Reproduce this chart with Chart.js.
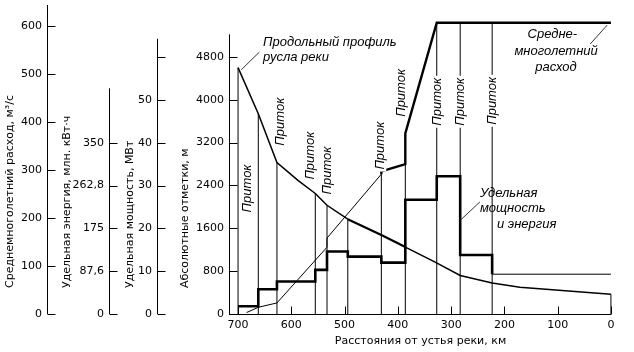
<!DOCTYPE html>
<html>
<head>
<meta charset="utf-8">
<script src="https://cdn.jsdelivr.net/npm/chart.js@4/dist/chart.umd.min.js"></script>
<style>
  html, body { margin: 0; padding: 0; background: #fff; }
</style>
</head>
<body>
<canvas id="riverChart" width="634" height="352"></canvas>
<script>
// tick values of the axes
const xTicks = [0, 100, 200, 300, 400, 500, 600, 700];
const flowTicks = [0, 100, 200, 300, 400, 500, 600];
const energyTicks = [0, 87.6, 175.2, 262.8, 350.4];
const energyTickLabels = ['0', '87,6', '175', '262,8', '350'];
const powerTicks = [0, 10, 20, 30, 40, 50, 60];
const powerTickLabels = ['0', '10', '20', '30', '40', '50', ''];
const elevTicks = [0, 800, 1600, 2400, 3200, 4000, 4800];

// longitudinal profile of the river bed (km from mouth, m)
const profileKm   = [700, 662, 627, 587, 555, 533, 494, 430, 386, 330, 283, 223, 171, 0];
const profileElev = [4600, 3740, 2830, 2490, 2250, 2030, 1770, 1470, 1250, 970, 720, 580, 500, 370];

// mean annual discharge, m3/s
const flowKm = [684, 662, 627, 533, 533, 431, 431, 386, 386, 327, 0];
const flowQ  = [3, 14, 23, 139, 158, 291, 297, 312, 376, 606, 606];

// specific power of each reach, MW (reach starts at powerKm[i])
const powerKm = [700, 662, 627, 555, 533, 494, 431, 386, 327, 283, 223, 0];
const powerMW = [1.8, 5.8, 7.6, 10.3, 14.6, 13.4, 12.0, 26.7, 32.2, 13.8, 9.3, 9.3];

// tributary lines: up to the profile / up to the discharge line
const tribProfileKm = [700, 662, 627, 555, 533, 494, 0];
const tribFlowKm  = [431, 386, 327, 283, 223];
const tribFlowTop = [291, 376, 606, 606, 606];

// "Приток" labels (km, elevation of label centre)
const inflowLabelKm   = [683, 621, 565, 533, 433, 394, 326, 283, 223];
const inflowLabelElev = [2344, 3591, 2958, 2679, 3144, 4130, 3963, 3963, 3981];

// other notes
const noteText  = ['Продольный профиль', 'русла реки', 'Средне-', 'многолетний', 'расход', 'Удельная', 'мощность', 'и энергия'];
const noteKm    = [653, 653, 110, 103, 103, 246, 246, 214];
const noteElev  = [5080, 4800, 5228, 4912, 4614, 2260, 1972, 1674];
const noteAlign = ['left', 'left', 'center', 'center', 'center', 'left', 'left', 'left'];
const leaderKm   = [[694, 660], [39, 7], [281, 246]];
const leaderElev = [[4560, 4890], [5040, 5395], [1767, 2093]];

const FONT = 'DejaVu Sans';
const tickFont = { family: FONT, size: 11 };

function pts(xs, ys) {
  return xs.map((x, i) => ({ x: x, y: ys[i] }));
}
function verticals(kms, tops) {
  const out = [];
  kms.forEach((k, i) => { out.push({ x: k, y: 0 }, { x: k, y: tops[i] }, { x: k, y: null }); });
  return out;
}

const axisDefs = [
  { id: 'yQ', top: 643, title: 'Среднемноголетний расход, м³/с', dx: -37 },
  { id: 'yE', top: 462, title: 'Удельная энергия, млн. кВт·ч', dx: -42 },
  { id: 'yP', top: 64.3, title: 'Удельная мощность, МВт', dx: -27 },
  { id: 'yH', top: 5222, title: 'Абсолютные отметки, м', dx: -44 }
];

function yAxis(ticks, max, weight, width, labels) {
  return {
    type: 'linear', position: 'left', min: 0, max: max, weight: weight,
    grid: { display: false, drawTicks: false }, border: { display: false },
    afterBuildTicks: s => { s.ticks = ticks.map(v => ({ value: v })); },
    afterFit: s => { s.width = width; s.paddingTop = 0; s.paddingBottom = 0; },
    ticks: {
      color: '#000', font: tickFont, padding: 5, autoSkip: false,
      callback: (v, i) => labels ? labels[i] : String(v)
    }
  };
}

const axesPlugin = {
  id: 'axesPlugin',
  beforeDatasetsDraw(chart) {
    const ctx = chart.ctx, area = chart.chartArea, s = chart.scales;
    ctx.save();
    ctx.strokeStyle = '#000';
    ctx.lineWidth = 1;
    ctx.beginPath();
    axisDefs.forEach(a => {
      const sc = s[a.id];
      const x = Math.round(sc.right) + 0.5;
      ctx.moveTo(x, sc.getPixelForValue(0));
      ctx.lineTo(x, sc.getPixelForValue(a.top));
      sc.ticks.forEach(t => {
        const y = Math.round(sc.getPixelForValue(t.value)) + 0.5;
        ctx.moveTo(x, y);
        ctx.lineTo(x + 8, y);
      });
    });
    const yb = Math.round(area.bottom) + 0.5;
    ctx.moveTo(area.left, yb);
    ctx.lineTo(s.x.getPixelForValue(0), yb);
    xTicks.forEach(v => {
      const x = Math.round(s.x.getPixelForValue(v)) + 0.5;
      ctx.moveTo(x, yb);
      ctx.lineTo(x, yb - 8);
    });
    ctx.stroke();
    ctx.restore();
  },
  afterDraw(chart) {
    const ctx = chart.ctx, area = chart.chartArea, s = chart.scales;
    const px = k => s.x.getPixelForValue(k);
    const py = e => s.yH.getPixelForValue(e);
    ctx.save();
    ctx.fillStyle = '#000';
    // axis titles
    ctx.font = '11px "' + FONT + '"';
    ctx.textAlign = 'left';
    ctx.textBaseline = 'middle';
    axisDefs.forEach(a => {
      const sc = s[a.id];
      ctx.save();
      ctx.translate(Math.round(sc.right) + a.dx, area.bottom - 26);
      ctx.rotate(-Math.PI / 2);
      ctx.fillText(a.title, 0, 0);
      ctx.restore();
    });
    // inflow labels
    ctx.font = 'italic 13px "Liberation Sans"';
    ctx.textAlign = 'center';
    inflowLabelKm.forEach((k, i) => {
      ctx.save();
      ctx.translate(px(k), py(inflowLabelElev[i]));
      ctx.rotate(-Math.PI / 2);
      const w = ctx.measureText('Приток').width;
      ctx.fillStyle = '#fff';
      ctx.fillRect(-w / 2 - 2, -6, w + 4, 12);
      ctx.fillStyle = '#000';
      ctx.fillText('Приток', 0, 0);
      ctx.restore();
    });
    // notes
    noteText.forEach((t, i) => {
      ctx.textAlign = noteAlign[i];
      ctx.fillText(t, px(noteKm[i]), py(noteElev[i]));
    });
    // leader lines
    ctx.strokeStyle = '#000';
    ctx.lineWidth = 0.8;
    ctx.beginPath();
    leaderKm.forEach((k, i) => {
      ctx.moveTo(px(k[0]), py(leaderElev[i][0]));
      ctx.lineTo(px(k[1]), py(leaderElev[i][1]));
    });
    ctx.stroke();
    ctx.restore();
  }
};

const profileTops = tribProfileKm.map(k => profileElev[profileKm.indexOf(k)]);

const ctx = document.getElementById('riverChart').getContext('2d');
const riverChart = new Chart(ctx, {
  type: 'line',
  data: {
    datasets: [
      {
        label: 'Продольный профиль', data: pts(profileKm, profileElev), yAxisID: 'yH',
        borderColor: '#000', borderWidth: 1.5, pointRadius: 0,
        segment: { borderWidth: c => (c.p0DataIndex === 6 || c.p0DataIndex === 7) ? 2.2 : 1.5 }
      },
      {
        label: 'Среднемноголетний расход', data: pts(flowKm, flowQ), yAxisID: 'yQ',
        borderColor: '#000', borderWidth: 1, pointRadius: 0,
        segment: { borderWidth: c => c.p0DataIndex >= 5 ? 2.4 : 1 }
      },
      {
        label: 'Удельная мощность', data: pts(powerKm, powerMW), yAxisID: 'yP',
        borderColor: '#000', borderWidth: 2.6, pointRadius: 0, stepped: 'before',
        segment: { borderWidth: c => c.p0DataIndex >= 10 ? 1 : 2.6 }
      },
      {
        label: 'Притоки (профиль)', data: verticals(tribProfileKm, profileTops), yAxisID: 'yH',
        borderColor: '#000', borderWidth: 1, pointRadius: 0
      },
      {
        label: 'Притоки (расход)', data: verticals(tribFlowKm, tribFlowTop), yAxisID: 'yQ',
        borderColor: '#000', borderWidth: 1, pointRadius: 0
      }
    ]
  },
  options: {
    responsive: false,
    animation: false,
    events: [],
    layout: { padding: { left: 0, top: 5, right: 22, bottom: 0 } },
    plugins: { legend: { display: false }, tooltip: { enabled: false } },
    scales: {
      x: {
        type: 'linear', position: 'bottom', reverse: true, min: -2, max: 717,
        grid: { display: false, drawTicks: false }, border: { display: false },
        afterBuildTicks: s => { s.ticks = xTicks.map(v => ({ value: v })); },
        afterFit: s => { s.height = 38; s.paddingLeft = 0; s.paddingRight = 0; },
        ticks: { color: '#000', font: tickFont, padding: 5, autoSkip: false, maxRotation: 0 },
        title: {
          display: true, text: 'Расстояния от устья реки, км', color: '#000',
          font: tickFont, padding: { top: 0, bottom: 4 }
        }
      },
      yQ: yAxis(flowTicks, 643, 4, 47),
      yE: yAxis(energyTicks, 72.2 * 8.76, 3, 62, energyTickLabels),
      yP: yAxis(powerTicks, 72.2, 2, 48, powerTickLabels),
      yH: yAxis(elevTicks, 5770, 1, 72)
    }
  },
  plugins: [axesPlugin]
});
</script>
</body>
</html>
